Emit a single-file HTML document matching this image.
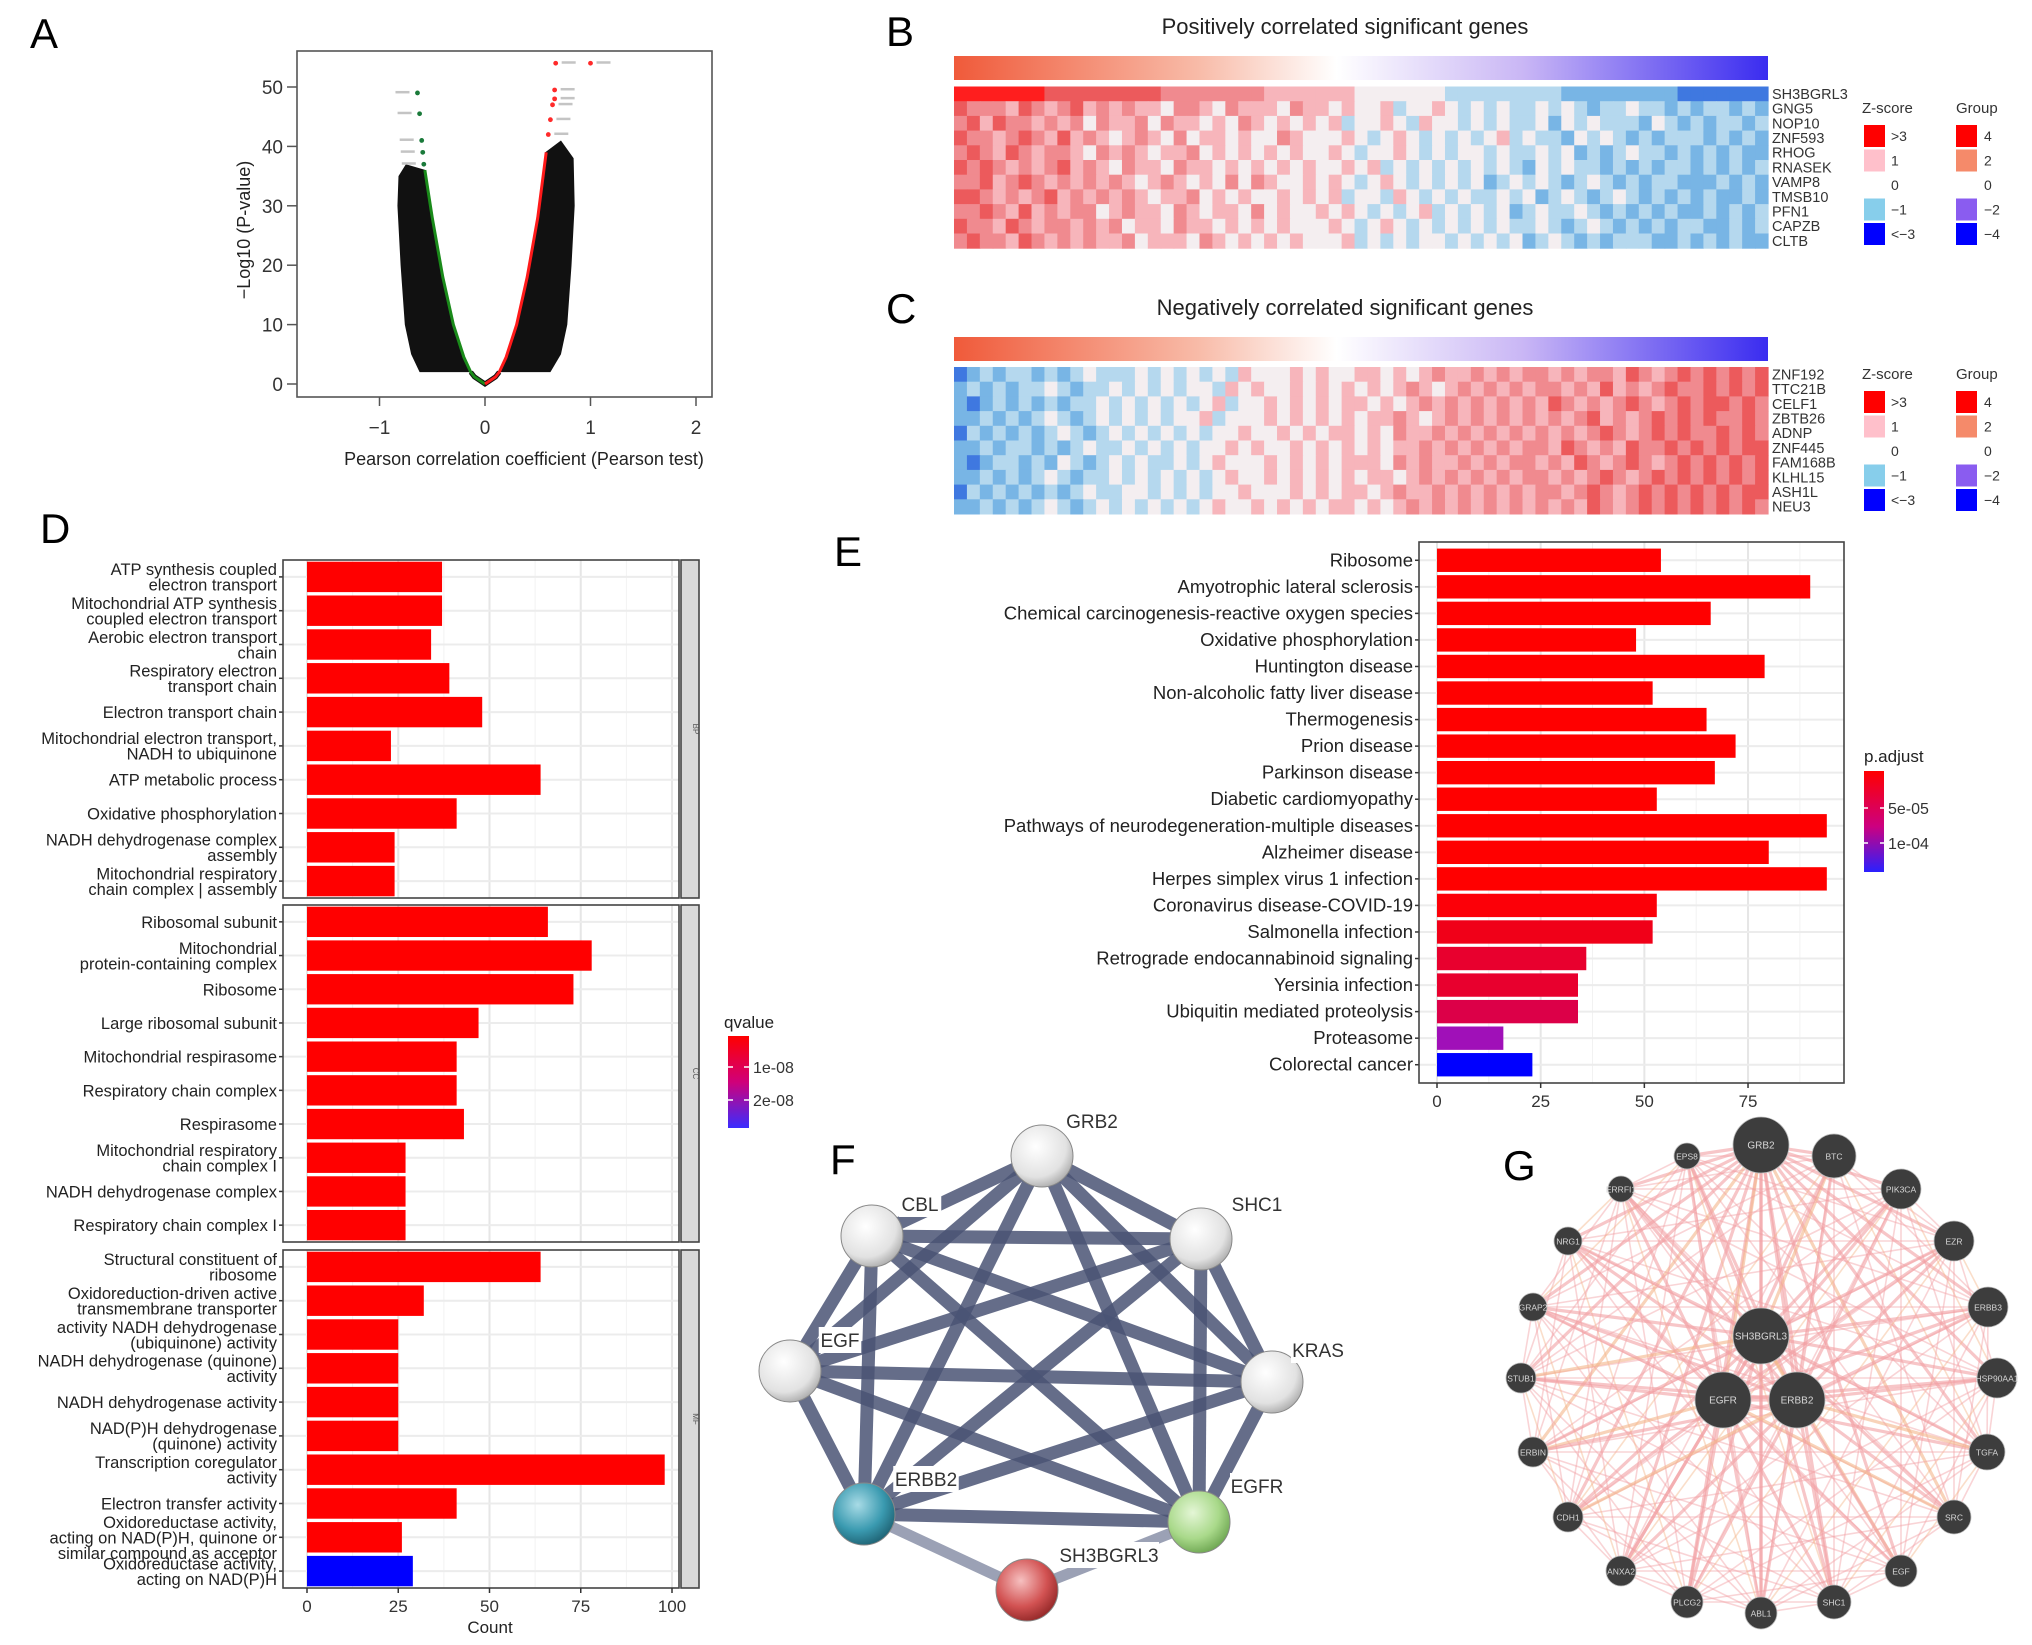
<!DOCTYPE html>
<html><head><meta charset="utf-8"><style>
html,body{margin:0;padding:0;background:#fff;}
svg{display:block;font-family:"Liberation Sans",Arial,sans-serif;}
</style></head><body>
<svg id="fig" width="2032" height="1645" viewBox="0 0 2032 1645" xmlns="http://www.w3.org/2000/svg">
<defs>
<linearGradient id="grpGrad" x1="0" x2="1" y1="0" y2="0">
<stop offset="0" stop-color="#f05a3a"/><stop offset="0.3" stop-color="#f8bba8"/><stop offset="0.47" stop-color="#ffffff"/><stop offset="0.7" stop-color="#c9b6f5"/><stop offset="1" stop-color="#3a2cf0"/>
</linearGradient>
<linearGradient id="qGrad" x1="0" x2="0" y1="0" y2="1"><stop offset="0" stop-color="#ff0000"/><stop offset="0.5" stop-color="#d0007a"/><stop offset="1" stop-color="#3a2cff"/></linearGradient>
<linearGradient id="pGrad" x1="0" x2="0" y1="0" y2="1"><stop offset="0" stop-color="#ff0000"/><stop offset="0.55" stop-color="#cc0080"/><stop offset="1" stop-color="#2a20ff"/></linearGradient>
<radialGradient id="sWhite" cx="0.4" cy="0.35" r="0.7"><stop offset="0" stop-color="#ffffff"/><stop offset="0.7" stop-color="#e2e2e2"/><stop offset="1" stop-color="#a8a8a8"/></radialGradient>
<radialGradient id="sTeal" cx="0.4" cy="0.35" r="0.7"><stop offset="0" stop-color="#a8dbe6"/><stop offset="0.6" stop-color="#3a9ab0"/><stop offset="1" stop-color="#1d5f70"/></radialGradient>
<radialGradient id="sGreen" cx="0.4" cy="0.35" r="0.7"><stop offset="0" stop-color="#e4f6d6"/><stop offset="0.6" stop-color="#a9d98a"/><stop offset="1" stop-color="#6aa34e"/></radialGradient>
<radialGradient id="sRed" cx="0.4" cy="0.35" r="0.7"><stop offset="0" stop-color="#f6c0c0"/><stop offset="0.6" stop-color="#d25252"/><stop offset="1" stop-color="#8f2525"/></radialGradient>
</defs>
<g id="root"></g>
</svg>
<script>
// ---------- DATA ----------
// Panel A (volcano)
const volcXTicks = [-1, 0, 1, 2];
const volcYTicks = [0, 10, 20, 30, 40, 50];
const leftOuterR = [-0.62, -0.70, -0.76, -0.80, -0.83, -0.82, -0.75];
const leftOuterY = [2, 5, 10, 20, 30, 35, 37];
const greenR = [-0.57, -0.5, -0.4, -0.3, -0.2, -0.135, -0.1, 0];
const greenY = [36, 28, 18, 10, 4.5, 2, 1.2, 0];
const rightOuterR = [0.62, 0.72, 0.78, 0.82, 0.85, 0.84, 0.72];
const rightOuterY = [2, 5, 10, 20, 30, 38, 41];
const redR = [0, 0.1, 0.135, 0.2, 0.3, 0.4, 0.5, 0.58];
const redY = [0, 1.2, 2, 4.5, 10, 18, 28, 39];
const redPtR = [0.67, 1.0, 0.66, 0.66, 0.64, 0.62, 0.6];
const redPtY = [54, 54, 49.5, 48, 47, 44.5, 42];
const greenPtR = [-0.64, -0.62, -0.6, -0.59, -0.58];
const greenPtY = [49, 45.5, 41, 39, 37];

// Panel B / C heatmaps (levels 0=strong blue ... 4=white ... 8=strong red)
const genesB = ["SH3BGRL3","GNG5","NOP10","ZNF593","RHOG","RNASEK","VAMP8","TMSB10","PFN1","CAPZB","CLTB"];
const rowsB = [
"888888877777777766666666555555544444443333333332222222221111111",
"766657656756565546654655546554544534454343433434323343323233232",
"675766565646556465545465454545344543544343433424343332432323323",
"766567657565456546455454465444543454343434534332434323233323232",
"676576566546565455645454545445434454343443433434232343323232322",
"767656567565465546554545454544545343434343432434332323233232323",
"667567656565654565454646544545434543434342343432343232332223232",
"776565675656565455645454454545344354343433434234323432323232232",
"667657565664565546545546454454543434534343423433432323232232323",
"766576566565645546554545454445434543434343433432343232323322323",
"676657656565564555465454545444534343443434342343232333223232322"];
const genesC = ["ZNF192","TTC21B","CELF1","ZBTB26","ADNP","ZNF445","FAM168B","KLHL15","ASH1L","NEU3"];
const rowsC = [
"123233232343334343434354445454455454565565656656566576567676767",
"232323343233434343443545445454545456545656565665657565676676767",
"212323232334343434345344545454554545656565656576565676567677676",
"223232343234343434453444545454545565456565656565675656767676676",
"132323234323434343434454454545545465565656565656567656767667676",
"223233232343343434344545445454545455656565656657656576676767677",
"212332324323434334345444545454555465655656566565765676567676767",
"223232343233434343434544545454545545656565656656567656767676767",
"132323232343344343434454445454554565565656565665676567676767677",
"223232343234343434345445454545545456565656565656576567676767676"];
const zLegendLabels = [">3","1","0","\u22121","<\u22123"];
const gLegendLabels = ["4","2","0","\u22122","\u22124"];

// Panel D (GO)
const goBP = ["ATP synthesis coupled\nelectron transport","Mitochondrial ATP synthesis\ncoupled electron transport","Aerobic electron transport\nchain","Respiratory electron\ntransport chain","Electron transport chain","Mitochondrial electron transport,\nNADH to ubiquinone","ATP metabolic process","Oxidative phosphorylation","NADH dehydrogenase complex\nassembly","Mitochondrial respiratory\nchain complex | assembly"];
const goBPCount = [37, 37, 34, 39, 48, 23, 64, 41, 24, 24];
const goCC = ["Ribosomal subunit","Mitochondrial\nprotein-containing complex","Ribosome","Large ribosomal subunit","Mitochondrial respirasome","Respiratory chain complex","Respirasome","Mitochondrial respiratory\nchain complex I","NADH dehydrogenase complex","Respiratory chain complex I"];
const goCCCount = [66, 78, 73, 47, 41, 41, 43, 27, 27, 27];
const goMF = ["Structural constituent of\nribosome","Oxidoreduction-driven active\ntransmembrane transporter","activity NADH dehydrogenase\n(ubiquinone) activity","NADH dehydrogenase (quinone)\nactivity","NADH dehydrogenase activity","NAD(P)H dehydrogenase\n(quinone) activity","Transcription coregulator\nactivity","Electron transfer activity","Oxidoreductase activity,\nacting on NAD(P)H, quinone or\nsimilar compound as acceptor","Oxidoreductase activity,\nacting on NAD(P)H"];
const goMFCount = [64, 32, 25, 25, 25, 25, 98, 41, 26, 29];
const goMFColor = ["#ff0000","#ff0000","#ff0000","#ff0000","#ff0000","#ff0000","#ff0000","#ff0000","#ff0000","#0000ff"];
const goXTicks = [0, 25, 50, 75, 100];

// Panel E (KEGG)
const keggTerms = ["Ribosome","Amyotrophic lateral sclerosis","Chemical carcinogenesis-reactive oxygen species","Oxidative phosphorylation","Huntington disease","Non-alcoholic fatty liver disease","Thermogenesis","Prion disease","Parkinson disease","Diabetic cardiomyopathy","Pathways of neurodegeneration-multiple diseases","Alzheimer disease","Herpes simplex virus 1 infection","Coronavirus disease-COVID-19","Salmonella infection","Retrograde endocannabinoid signaling","Yersinia infection","Ubiquitin mediated proteolysis","Proteasome","Colorectal cancer"];
const keggCount = [54, 90, 66, 48, 79, 52, 65, 72, 67, 53, 94, 80, 94, 53, 52, 36, 34, 34, 16, 23];
const keggColor = ["#ff0000","#ff0000","#ff0000","#ff0000","#ff0000","#ff0000","#ff0000","#ff0000","#ff0000","#ff0000","#ff0000","#ff0000","#ff0000","#fc0008","#f00018","#e8002e","#e8002e","#dc0048","#a010b8","#0000ff"];
const keggXTicks = [0, 25, 50, 75];

// Panel F (STRING)
const fNames = ["GRB2","CBL","SHC1","EGF","KRAS","ERBB2","EGFR","SH3BGRL3"];
const fEdgesA = [0,0,0,0,0,0,1,1,1,1,1,2,2,2,2,3,3,3,4,4,5,5,6];
const fEdgesB = [1,2,3,4,5,6,2,3,4,5,6,3,4,5,6,4,5,6,5,6,6,7,7];

// Panel G (GeneMANIA)
const gNames = ["GRB2","BTC","PIK3CA","EZR","ERBB3","HSP90AA1","TGFA","SRC","EGF","SHC1","ABL1","PLCG2","ANXA2","CDH1","ERBIN","STUB1","GRAP2","NRG1","ERRFI1","EPS8","SH3BGRL3","EGFR","ERBB2"];
const gSize = [28,22,20,20,20,20,18,17,16,17,16,16,15,15,15,15,14,14,13,13,28,28,28];

// ---------- LAYOUT / HELPERS ----------
const NS = "http://www.w3.org/2000/svg";
const root = document.getElementById("root");
function mk(tag, attrs, parent){
  const e = document.createElementNS(NS, tag);
  for (const k in attrs) e.setAttribute(k, attrs[k]);
  (parent || root).appendChild(e);
  return e;
}
function txt(str, attrs, parent){
  const e = mk("text", attrs, parent);
  e.textContent = str;
  return e;
}
function group(parent){ return mk("g", {}, parent); }

// panel letters
const letters = [["A",30,48],["B",886,46],["C",886,323],["D",40,543],["E",834,566],["F",830,1174],["G",1503,1180]];
letters.forEach(l=>{
  const t = txt(l[0], {x:l[1], y:l[2], "font-size":42, fill:"#000"});
  
  
});

// ---------- PANEL A ----------
(function(){
  const g = group();
  
  
  const X0 = 485, XS = 105.5, Y0 = 384, YS = 5.94;
  const xs = r => X0 + r*XS, ys = v => Y0 - v*YS;
  let pts = [];
  for (let i=0;i<leftOuterR.length;i++) pts.push(xs(leftOuterR[i])+","+ys(leftOuterY[i]));
  for (let i=0;i<greenR.length;i++) if (greenY[i] >= 2) pts.push(xs(greenR[i]+0.01)+","+ys(greenY[i]));
  const lc = mk("polygon", {points:pts.join(" "), fill:"#111"}, g);
  
  
  pts = [];
  for (let i=0;i<rightOuterR.length;i++) pts.push(xs(rightOuterR[i])+","+ys(rightOuterY[i]));
  for (let i=redR.length-1;i>=0;i--) if (redY[i] >= 2) pts.push(xs(redR[i]-0.01)+","+ys(redY[i]));
  const rc = mk("polygon", {points:pts.join(" "), fill:"#111"}, g);
  
  
  const bp = [];
  for (let i=0;i<greenR.length;i++) if (greenY[i] <= 2.1) bp.push(xs(greenR[i])+","+ys(greenY[i]));
  for (let i=0;i<redR.length;i++) if (redY[i] <= 2.1) bp.push(xs(redR[i])+","+ys(redY[i]));
  const bot = mk("polyline", {points:bp.join(" "), fill:"none", stroke:"#111", "stroke-width":5}, g);
  
  
  const gl = mk("polyline", {points:greenR.map((r,i)=>xs(r)+","+ys(greenY[i])).join(" "), fill:"none", stroke:"#1a8a1a", "stroke-width":3}, g);
  
  
  const rl = mk("polyline", {points:redR.map((r,i)=>xs(r)+","+ys(redY[i])).join(" "), fill:"none", stroke:"#ff1a1a", "stroke-width":3}, g);
  
  
  redPtR.forEach((r,i)=>{
    const c = mk("circle", {cx:xs(r), cy:ys(redPtY[i]), r:2.4, fill:"#ff2a2a"}, g);
    
    
    const lb = mk("rect", {x:xs(r)+6, y:ys(redPtY[i])-2, width:14, height:2.5, fill:"#c4c4c4"}, g);
    
    
  });
  greenPtR.forEach((r,i)=>{
    const c = mk("circle", {cx:xs(r), cy:ys(greenPtY[i]), r:2.4, fill:"#1a7a3a"}, g);
    
    
    const lb = mk("rect", {x:xs(r)-22, y:ys(greenPtY[i])-2, width:14, height:2.5, fill:"#c4c4c4"}, g);
    
    
  });
  const box = mk("rect", {x:297, y:51, width:415, height:346, fill:"none", stroke:"#555", "stroke-width":1.6}, g);
  
  
  volcXTicks.forEach(t=>{
    mk("line", {x1:xs(t), x2:xs(t), y1:397, y2:406, stroke:"#555", "stroke-width":1.5}, g);
    const tl = txt(t<0 ? "\u2212"+(-t) : String(t), {x:xs(t), y:434, "font-size":19, "text-anchor":"middle", fill:"#333"}, g);
    
    
  });
  volcYTicks.forEach(t=>{
    mk("line", {x1:287, x2:297, y1:ys(t), y2:ys(t), stroke:"#555", "stroke-width":1.5}, g);
    const tl = txt(String(t), {x:283, y:ys(t)+7, "font-size":19, "text-anchor":"end", fill:"#333"}, g);
    
    
  });
  const xt = txt("Pearson correlation coefficient (Pearson test)", {x:524, y:465, "font-size":18, "text-anchor":"middle", fill:"#222"}, g);
  
  
  const yt = txt("\u2212Log10 (P-value)", {x:0, y:0, "font-size":18, "text-anchor":"middle", fill:"#222", transform:"translate(250,230) rotate(-90)"}, g);
  
  
})();

// ---------- PANELS B / C ----------
const zPal = ["#1428f0","#3f78e0","#78b5e5","#b5d8ee","#f4eef0","#f7b5bb","#f08a8f","#ec5a5c","#ff1e1e"];
function heatmap(name, title, titleY, barY, top, rows, genes, legendTop){
  const g = group();
  
  
  const L = 954, R = 1768, rowH = 14.7;
  const t = txt(title, {x:1345, y:titleY, "font-size":22, "text-anchor":"middle", fill:"#222"}, g);
  
  
  const gb = mk("rect", {x:L, y:barY, width:R-L, height:24, fill:"url(#grpGrad)"}, g);
  
  
  rows.forEach((row, ri)=>{
    const n = row.length, w = (R-L)/n;
    for (let ci=0; ci<n; ci++){
      const c = mk("rect", {x:(L+ci*w).toFixed(2), y:(top+ri*rowH).toFixed(2), width:(w+0.6).toFixed(2), height:rowH+0.5, fill:zPal[+row[ci]]}, g);
      
      
    }
    const gl = txt(genes[ri], {x:R+4, y:top+ri*rowH+rowH/2+5, "font-size":14.5, fill:"#333"}, g);
    
    
  });
  const zt = txt("Z-score", {x:1862, y:legendTop, "font-size":15, fill:"#333"}, g);
  
  
  const gt = txt("Group", {x:1956, y:legendTop, "font-size":15, fill:"#333"}, g);
  
  
  const zc = ["#ff0000","#ffc0cb","#ffffff","#87ceeb","#0000ff"];
  const gc = ["#ff0000","#f58a6a","#ffffff","#8a5cf0","#0000ff"];
  for (let i=0;i<5;i++){
    const y = legendTop + 12 + i*24.5;
    const zr = mk("rect", {x:1864, y:y, width:21, height:22, fill:zc[i]}, g);
    
    
    const zl = txt(zLegendLabels[i], {x:1891, y:y+16, "font-size":14, fill:"#333"}, g);
    
    
    const gr = mk("rect", {x:1956, y:y, width:21, height:22, fill:gc[i]}, g);
    
    
    const glb = txt(gLegendLabels[i], {x:1984, y:y+16, "font-size":14, fill:"#333"}, g);
    
    
  }
}
heatmap("positive-heatmap", "Positively correlated significant genes", 34, 56, 86.5, rowsB, genesB, 113);
heatmap("negative-heatmap", "Negatively correlated significant genes", 315, 337, 367, rowsC, genesC, 379);

// ---------- PANEL D ----------
(function(){
  const g = group();
  
  
  const PL = 283, PR = 679, X0 = 307, XS = 3.65;
  const xs = v => X0 + v*XS;
  const facets = [[560,898,goBP,goBPCount,null,"BP"],[905,1242,goCC,goCCCount,null,"CC"],[1250,1588,goMF,goMFCount,goMFColor,"MF"]];
  facets.forEach(f=>{
    const [top, bot, labels, vals, cols, strip] = f;
    const bg = mk("rect", {x:PL, y:top, width:PR-PL, height:bot-top, fill:"#fff"}, g);
    
    
    for (let v=0; v<=106; v+=12.5){
      mk("line", {x1:xs(v), x2:xs(v), y1:top, y2:bot, stroke: (v%25===0)?"#e6e6e6":"#f2f2f2", "stroke-width": (v%25===0)?2:1}, g);
    }
    const band = (bot-top)/vals.length;
    vals.forEach((v,i)=>{
      const cy = top + band*(i+0.5);
      mk("line", {x1:PL, x2:PR, y1:cy, y2:cy, stroke:"#ececec", "stroke-width":2}, g);
      const b = mk("rect", {x:xs(0), y:cy-band*0.45, width:v*XS, height:band*0.9, fill: cols ? cols[i] : "#ff0000"}, g);
      
      
      mk("line", {x1:PL-4, x2:PL, y1:cy, y2:cy, stroke:"#333", "stroke-width":1.5}, g);
      const lines = labels[i].split("\n");
      const lh = 15.5;
      const t = txt("", {x:PL-6, y:cy - (lines.length-1)*lh/2 + 6, "font-size":16.5, "text-anchor":"end", fill:"#222"}, g);
      lines.forEach((ln, k)=>{
        const ts = mk("tspan", {x:PL-6, dy: k===0 ? 0 : lh}, t);
        ts.textContent = ln;
      });
      
      
    });
    const fr = mk("rect", {x:PL, y:top, width:PR-PL, height:bot-top, fill:"none", stroke:"#444", "stroke-width":1.6}, g);
    
    
    const sr = mk("rect", {x:PR+2, y:top, width:18, height:bot-top, fill:"#d9d9d9", stroke:"#444", "stroke-width":1.6}, g);
    
    
    const st = txt(strip, {x:0, y:0, "font-size":8, "text-anchor":"middle", fill:"#555", transform:`translate(${PR+14},${(top+bot)/2}) rotate(90)`}, g);
    
    
  });
  goXTicks.forEach(t=>{
    mk("line", {x1:xs(t), x2:xs(t), y1:1588, y2:1593, stroke:"#333", "stroke-width":1.5}, g);
    const tl = txt(String(t), {x:xs(t), y:1612, "font-size":17, "text-anchor":"middle", fill:"#333"}, g);
    
    
  });
  const xt = txt("Count", {x:490, y:1633, "font-size":17, "text-anchor":"middle", fill:"#222"}, g);
  
  
  const lt = txt("qvalue", {x:724, y:1028, "font-size":17, fill:"#222"}, g);
  
  
  const lb = mk("rect", {x:728, y:1036, width:21, height:92, fill:"url(#qGrad)"}, g);
  
  
  [["1e-08",1067],["2e-08",1100]].forEach(a=>{
    mk("line", {x1:728, x2:733, y1:a[1], y2:a[1], stroke:"#fff", "stroke-width":1.5}, g);
    mk("line", {x1:744, x2:749, y1:a[1], y2:a[1], stroke:"#fff", "stroke-width":1.5}, g);
    const l = txt(a[0], {x:753, y:a[1]+6, "font-size":16, fill:"#333"}, g);
    
    
  });
})();

// ---------- PANEL E ----------
(function(){
  const g = group();
  
  
  const PL = 1419, PR = 1844, TOP = 542, BOT = 1083, X0 = 1437, XS = 4.147;
  const xs = v => X0 + v*XS;
  for (let v=0; v<=98; v+=12.5){
    mk("line", {x1:xs(v), x2:xs(v), y1:TOP, y2:BOT, stroke:(v%25===0)?"#e6e6e6":"#f2f2f2", "stroke-width":(v%25===0)?2:1}, g);
  }
  const band = (BOT-TOP-10)/keggCount.length;
  keggCount.forEach((v,i)=>{
    const cy = TOP + 5 + band*(i+0.5);
    mk("line", {x1:PL, x2:PR, y1:cy, y2:cy, stroke:"#ececec", "stroke-width":2}, g);
    const b = mk("rect", {x:xs(0), y:cy-band*0.44, width:v*XS, height:band*0.88, fill:keggColor[i]}, g);
    
    
    mk("line", {x1:PL-4, x2:PL, y1:cy, y2:cy, stroke:"#333", "stroke-width":1.5}, g);
    const t = txt(keggTerms[i], {x:PL-6, y:cy+6, "font-size":18.5, "text-anchor":"end", fill:"#222"}, g);
    
    
  });
  const fr = mk("rect", {x:PL, y:TOP, width:PR-PL, height:BOT-TOP, fill:"none", stroke:"#444", "stroke-width":1.6}, g);
  
  
  keggXTicks.forEach(t=>{
    mk("line", {x1:xs(t), x2:xs(t), y1:BOT, y2:BOT+5, stroke:"#333", "stroke-width":1.5}, g);
    const tl = txt(String(t), {x:xs(t), y:1107, "font-size":17, "text-anchor":"middle", fill:"#333"}, g);
    
    
  });
  const lt = txt("p.adjust", {x:1864, y:762, "font-size":17, fill:"#222"}, g);
  
  
  const lb = mk("rect", {x:1864, y:771, width:20, height:101, fill:"url(#pGrad)"}, g);
  
  
  [["5e-05",808],["1e-04",843]].forEach(a=>{
    mk("line", {x1:1864, x2:1868, y1:a[1], y2:a[1], stroke:"#fff", "stroke-width":1.5}, g);
    mk("line", {x1:1880, x2:1884, y1:a[1], y2:a[1], stroke:"#fff", "stroke-width":1.5}, g);
    const l = txt(a[0], {x:1888, y:a[1]+6, "font-size":16, fill:"#333"}, g);
    
    
  });
})();

// ---------- PANEL F ----------
(function(){
  const g = group();
  
  
  const nx = [1042, 872, 1201, 790, 1272, 864, 1199, 1027];
  const ny = [1156, 1236, 1239, 1371, 1382, 1514, 1522, 1590];
  const fill = ["url(#sWhite)","url(#sWhite)","url(#sWhite)","url(#sWhite)","url(#sWhite)","url(#sTeal)","url(#sGreen)","url(#sRed)"];
  fEdgesA.forEach((a,i)=>{
    const b = fEdgesB[i];
    const light = b === 7;
    const e = mk("line", {x1:nx[a], y1:ny[a], x2:nx[b], y2:ny[b], stroke: light ? "#8a90a8" : "#4a5374", "stroke-width": light ? 11 : 13, "stroke-opacity":0.85}, g);
    
    
  });
  const lx = [1092, 920, 1257, 840, 1318, 926, 1257, 1109];
  const ly = [1128, 1211, 1211, 1347, 1357, 1486, 1493, 1562];
  fNames.forEach((n,i)=>{
    const c = mk("circle", {cx:nx[i], cy:ny[i], r:31, fill:fill[i], stroke:"#888", "stroke-width":1}, g);
    
    
    const w = n.length*11.5 + 8;
    const bgr = mk("rect", {x:lx[i]-w/2, y:ly[i]-20, width:w, height:26, fill:"#fff"}, g);
    
    
    const t = txt(n, {x:lx[i], y:ly[i], "font-size":19, "text-anchor":"middle", fill:"#333"}, g);
    
    
  });
})();

// ---------- PANEL G ----------
(function(){
  const g = group();
  
  
  const nx = [1761,1834,1901,1954,1988,1997,1987,1954,1901,1834,1761,1687,1621,1568,1533,1521,1533,1568,1621,1687,1761,1723,1797];
  const ny = [1145,1156,1189,1241,1307,1378,1452,1517,1571,1602,1613,1602,1571,1517,1452,1378,1307,1241,1189,1156,1336,1400,1400];
  const eg = group(g);
  
  
  for (let a=0; a<nx.length; a++){
    for (let b=a+1; b<nx.length; b++){
      const hub = a>=20 || b>=20 || a===0;
      if (!hub && (a+b)%3===0) continue;
      const e = mk("line", {x1:nx[a], y1:ny[a], x2:nx[b], y2:ny[b], stroke: (a+b)%7===0 ? "#f3b58a" : "#f2a0a4", "stroke-width": hub ? 3.2 : 1.6, "stroke-opacity": hub ? 0.6 : 0.45}, eg);
      
      
    }
  }
  gNames.forEach((n,i)=>{
    const c = mk("circle", {cx:nx[i], cy:ny[i], r:gSize[i], fill:"#3d3d3d", stroke:"#bbb", "stroke-width":0.8}, g);
    
    
    const fs = gSize[i] >= 25 ? 10 : 8.5;
    const t = txt(n, {x:nx[i], y:ny[i]+3.5, "font-size":fs, "text-anchor":"middle", fill:"#d8d8d8"}, g);
    
    
  });
})();
</script>
</body></html>
